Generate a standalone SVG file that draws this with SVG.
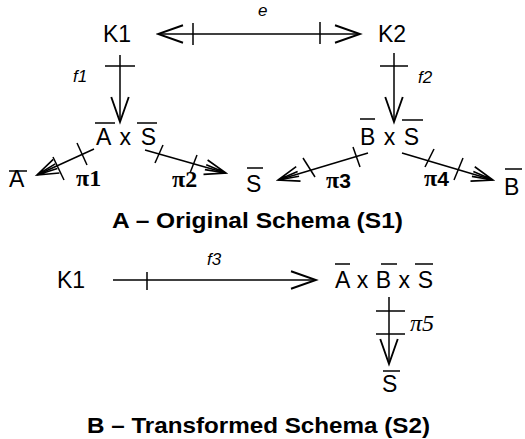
<svg xmlns="http://www.w3.org/2000/svg" width="525" height="439" viewBox="0 0 525 439">
<defs>
<marker id="ah" markerUnits="userSpaceOnUse" markerWidth="30" markerHeight="30" viewBox="-22 -10 24 20" refX="0" refY="0" orient="auto-start-reverse">
<path d="M-20,-7 L0,0 L-20,7" fill="none" stroke="#000" stroke-width="1.5"/>
</marker>
<marker id="ahs" markerUnits="userSpaceOnUse" markerWidth="30" markerHeight="30" viewBox="-22 -10 24 20" refX="0" refY="0" orient="auto">
<path d="M-17,-6 L0,0 L-17,6 M-17,-2 L0,0 L-17,2" fill="none" stroke="#000" stroke-width="1.3"/>
</marker>
</defs>
<style>
.n{font-family:"Liberation Sans",Arial,sans-serif;font-size:23px;fill:#000}
.t{font-family:"Liberation Sans",Arial,sans-serif;font-size:22px;font-weight:bold;fill:#000}
.f{font-family:"Liberation Sans",Arial,sans-serif;font-size:17px;font-style:italic;fill:#000}
.p{font-family:"Liberation Serif","Times New Roman",serif;font-size:24px;font-weight:bold;fill:#000}
.pi{font-family:"Liberation Serif","Times New Roman",serif;font-size:24px;font-style:italic;fill:#000}
.ps{font-family:"Liberation Sans",Arial,sans-serif;font-size:21px;fill:#000}
.ob{stroke:#000;stroke-width:1.5;fill:none}
.c line,.c path{stroke:#000;stroke-width:1.5;fill:none}
</style>
<rect width="525" height="439" fill="#fff"/>

<g class="c" id="connectors">
<line x1="158" y1="34" x2="360" y2="34" marker-start="url(#ah)" marker-end="url(#ah)"/>
<line x1="193" y1="23" x2="193" y2="45"/>
<line x1="320" y1="22" x2="320" y2="44"/>
<line x1="120" y1="55" x2="120" y2="122" marker-end="url(#ah)"/>
<line x1="105" y1="66" x2="135" y2="66"/>
<line x1="394" y1="53" x2="394" y2="122" marker-end="url(#ah)"/>
<line x1="380" y1="66" x2="408" y2="66"/>
<line x1="94" y1="149" x2="37" y2="175" marker-end="url(#ahs)"/>
<line x1="77" y1="143" x2="87" y2="165"/>
<line x1="53" y1="157" x2="64" y2="180"/>
<line x1="145" y1="150" x2="226" y2="173" marker-end="url(#ahs)"/>
<line x1="163" y1="145" x2="155" y2="163"/>
<line x1="197" y1="155" x2="190" y2="173"/>
<line x1="368" y1="153" x2="278" y2="180" marker-end="url(#ahs)"/>
<line x1="353" y1="147" x2="360" y2="167"/>
<line x1="303" y1="158" x2="315" y2="177"/>
<line x1="402" y1="153" x2="493" y2="180" marker-end="url(#ahs)"/>
<line x1="434" y1="149" x2="425" y2="167"/>
<line x1="463" y1="158" x2="454" y2="180"/>
<line x1="113" y1="280" x2="316" y2="280" marker-end="url(#ah)"/>
<line x1="147" y1="272" x2="147" y2="290"/>
<line x1="389" y1="297" x2="389" y2="364" marker-end="url(#ah)"/>
<line x1="376" y1="311" x2="405" y2="311"/>
<line x1="376" y1="334" x2="405" y2="334"/>
</g>

<g id="labels">
<text class="f" x="258" y="16">e</text>
<text class="f" x="73" y="82">f1</text>
<text class="f" x="418" y="83">f2</text>
<text class="f" x="207" y="265">f3</text>
<text class="p" x="76" y="186">π1</text>
<text class="p" x="172" y="187">π2</text>
<text class="p" x="326" y="188">π<tspan class="ps">3</tspan></text>
<text class="p" x="424" y="186">π<tspan class="ps">4</tspan></text>
<text class="pi" x="410" y="331">π5</text>
</g>

<g id="K1">
<text class="n" x="103" y="42">K1</text>
</g>
<g id="K2">
<text class="n" x="378" y="42">K2</text>
</g>
<g id="AxS">
<text class="n" x="96" y="145" textLength="60" lengthAdjust="spacing">A x S</text>
<line class="ob" x1="95" y1="123" x2="115" y2="123"/>
<line class="ob" x1="137" y1="123" x2="157" y2="123"/>
</g>
<g id="BxS">
<text class="n" x="360" y="145" textLength="59" lengthAdjust="spacing">B x S</text>
<line class="ob" x1="360" y1="119" x2="375" y2="119"/>
<line class="ob" x1="402" y1="120" x2="423" y2="120"/>
</g>
<g id="A">
<text class="n" x="9" y="187">A</text>
<line class="ob" x1="9" y1="171" x2="27" y2="171"/>
</g>
<g id="S">
<text class="n" x="246" y="192">S</text>
<line class="ob" x1="247" y1="168" x2="263" y2="168"/>
</g>
<g id="B">
<text class="n" x="504" y="195">B</text>
<line class="ob" x1="505" y1="169" x2="522" y2="169"/>
</g>
<g id="title1">
<text class="t" x="112" y="228" textLength="291" lengthAdjust="spacingAndGlyphs">A – Original Schema (S1)</text>
</g>
<g id="K1b">
<text class="n" x="57" y="288">K1</text>
</g>
<g id="AxBxS">
<text class="n" x="335" y="288" textLength="98" lengthAdjust="spacing">A x B x S</text>
<line class="ob" x1="335" y1="264" x2="350" y2="264"/>
<line class="ob" x1="381" y1="264" x2="397" y2="264"/>
<line class="ob" x1="415" y1="264" x2="433" y2="264"/>
</g>
<g id="S2node">
<text class="n" x="382" y="392">S</text>
<line class="ob" x1="383" y1="371" x2="400" y2="371"/>
</g>
<g id="title2">
<text class="t" x="87" y="433" textLength="343" lengthAdjust="spacingAndGlyphs">B – Transformed Schema (S2)</text>
</g>
</svg>
